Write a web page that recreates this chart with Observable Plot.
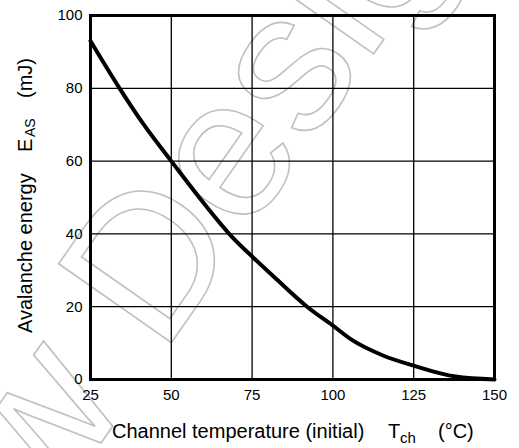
<!DOCTYPE html>
<html>
<head>
<meta charset="utf-8">
<script src="https://cdn.jsdelivr.net/npm/d3@7"></script>
<script src="https://cdn.jsdelivr.net/npm/@observablehq/plot@0.6"></script>
<style>
  html, body { margin: 0; padding: 0; background: #fff; }
  svg { display: block; }
</style>
</head>
<body>
<div id="chart"></div>
<script>
// Data
const temperature = [25, 34, 41.5, 50, 60, 69, 75, 82, 92, 100, 106, 115.5, 125, 138, 150]; // °C
const energy      = [93, 80, 70, 60, 48.5, 39, 33.8, 28, 20, 14.8, 10.8, 6.6, 3.8, 0.8, 0]; // mJ
const xTicks = [25, 50, 75, 100, 125, 150];
const yTicks = [0, 20, 40, 60, 80, 100];
const xTitle = "Channel temperature (initial)";
const yTitle = "Avalanche energy";
const watermark = ["New", "Design"];

const data = temperature.map((t, i) => ({t, e: energy[i]}));
const font = "'Liberation Sans', Arial, sans-serif";

const svg = Plot.plot({
  width: 519,
  height: 448,
  marginLeft: 90,
  marginRight: 25,
  marginTop: 15,
  marginBottom: 69,
  style: {fontFamily: font, fontSize: "15px", color: "#000", background: "#fff"},
  x: {domain: [25, 150], ticks: xTicks, tickSize: 0, tickPadding: 11, label: null},
  y: {domain: [0, 100], ticks: yTicks, tickSize: 0, tickPadding: 8, label: null},
  marks: [
    Plot.gridX(xTicks, {stroke: "#000", strokeOpacity: 1, strokeWidth: 1.3}),
    Plot.gridY(yTicks, {stroke: "#000", strokeOpacity: 1, strokeWidth: 1.3}),
    Plot.line(data, {x: "t", y: "e", stroke: "#000", strokeWidth: 4, curve: "monotone-x"}),
    Plot.frame({stroke: "#000", strokeWidth: 3}),
    Plot.axisX(xTicks, {tickSize: 0, tickPadding: 10, fontSize: 15}),
    Plot.axisY(yTicks, {tickSize: 0, tickPadding: 8, fontSize: 15})
  ]
});

const s = d3.select(svg);

// Watermark (outlined text, behind the chart)
const wm = s.insert("g", "g")
  .attr("transform", "translate(162,356) rotate(-55)")
  .attr("font-family", font)
  .attr("font-size", 200)
  .attr("text-anchor", "start")
  .attr("fill", "none")
  .attr("stroke", "#c0c0c0")
  .attr("stroke-width", 1.6);
wm.append("text").attr("x", -56).attr("text-anchor", "end").text(watermark[0]);
wm.append("text").attr("x", 0).attr("text-anchor", "start").text(watermark[1]);

// X axis title with subscript
const xt = s.append("g").attr("font-family", font).attr("fill", "#000").attr("text-anchor", "start");
xt.append("text").attr("x", 112).attr("y", 438).attr("font-size", 20).text(xTitle);
xt.append("text").attr("x", 388).attr("y", 438).attr("font-size", 20).text("T");
xt.append("text").attr("x", 400).attr("y", 443).attr("font-size", 15).text("ch");
xt.append("text").attr("x", 438).attr("y", 438).attr("font-size", 20).text("(°C)");

// Y axis title with subscript (rotated)
const yt = s.append("g").attr("font-family", font).attr("fill", "#000").attr("text-anchor", "start")
  .attr("transform", "translate(32,333) rotate(-90)");
yt.append("text").attr("x", 0).attr("y", 0).attr("font-size", 20).text(yTitle);
yt.append("text").attr("x", 181).attr("y", 0).attr("font-size", 20).text("E");
yt.append("text").attr("x", 196).attr("y", 3).attr("font-size", 14).text("AS");
yt.append("text").attr("x", 235).attr("y", 0).attr("font-size", 20).text("(mJ)");

document.getElementById("chart").appendChild(svg);
</script>
</body>
</html>
